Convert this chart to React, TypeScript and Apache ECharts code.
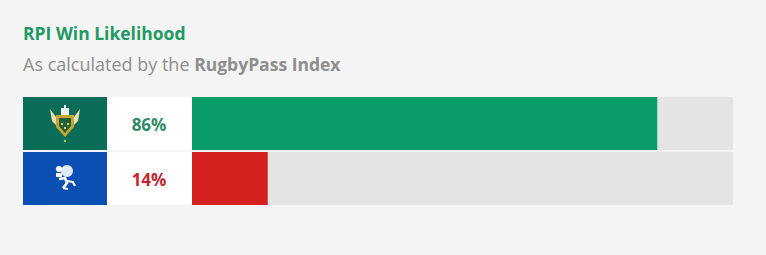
import React, { useEffect, useRef } from "react";
import * as echarts from "echarts";

// Teams and their win likelihood (percent)
const teams = ["Northampton Saints", "Bath"];
const winPct = [86, 14];
const barColors = ["#0a9c68", "#d4201f"];
const labelColors = ["#2f8c68", "#c1282f"];
const crestColors = ["#0b6c57", "#0a4fb2"];

const TITLE = "RPI Win Likelihood";
const SUB_PLAIN = "As calculated by the ";
const SUB_BOLD = "RugbyPass Index";

const FONT = "'Open Sans', Lato, sans-serif";

export default function App() {
  const ref = useRef<HTMLDivElement>(null);

  useEffect(() => {
    if (!ref.current) return;
    document.body.style.margin = "0";
    document.body.style.background = "#f4f4f4";
    const chart = echarts.init(ref.current, null, { renderer: "svg" });

    const rowTop = 97;
    const rowH = 53;
    const rowStep = 55;

    const crests: any[] = [];
    teams.forEach((_, i) => {
      const y = rowTop + i * rowStep;
      crests.push({
        type: "rect",
        shape: { x: 23, y, width: 84, height: rowH },
        style: { fill: crestColors[i] },
      });
      crests.push({
        type: "rect",
        shape: { x: 107, y, width: 85, height: rowH },
        style: { fill: "#ffffff" },
      });
    });

    // Saints crest: gold shield, wings and a white castle top
    const cx0 = 65;
    const cy0 = 123;
    const saints = {
      type: "group",
      children: [
        { type: "polygon", shape: { points: [[cx0 - 9, cy0 - 8], [cx0 + 9, cy0 - 8], [cx0 + 9, cy0 + 4], [cx0, cy0 + 14], [cx0 - 9, cy0 + 4]] }, style: { fill: "#c9a72c" } },
        { type: "polygon", shape: { points: [[cx0 - 6, cy0 - 5], [cx0 + 6, cy0 - 5], [cx0 + 6, cy0 + 3], [cx0, cy0 + 10], [cx0 - 6, cy0 + 3]] }, style: { fill: "#1d5e3c" } },
        { type: "polygon", shape: { points: [[cx0 - 9, cy0 - 6], [cx0 - 15, cy0 - 14], [cx0 - 13, cy0 - 2], [cx0 - 9, cy0 + 2]] }, style: { fill: "#e9dfb0" } },
        { type: "polygon", shape: { points: [[cx0 + 9, cy0 - 6], [cx0 + 15, cy0 - 14], [cx0 + 13, cy0 - 2], [cx0 + 9, cy0 + 2]] }, style: { fill: "#e9dfb0" } },
        { type: "rect", shape: { x: cx0 - 4, y: cy0 - 15, width: 8, height: 7 }, style: { fill: "#f2f2f2" } },
        { type: "rect", shape: { x: cx0 - 1, y: cy0 - 18, width: 2, height: 4 }, style: { fill: "#f2f2f2" } },
        { type: "circle", shape: { cx: cx0 - 3, cy: cy0 + 1, r: 1.2 }, style: { fill: "#e8d36a" } },
        { type: "circle", shape: { cx: cx0 + 3, cy: cy0 + 1, r: 1.2 }, style: { fill: "#e8d36a" } },
        { type: "circle", shape: { cx: cx0, cy: cy0 + 5, r: 1.2 }, style: { fill: "#e8d36a" } },
        { type: "circle", shape: { cx: cx0, cy: cy0 + 18, r: 1.2 }, style: { fill: "#d8c24a" } },
      ],
    };

    // Bath crest: white rampant figure on blue
    const bx = 65;
    const by = 177;
    const bath = {
      type: "group",
      children: [
        { type: "circle", shape: { cx: bx + 2, cy: by - 6, r: 6 }, style: { fill: "#dfe9f7" } },
        { type: "circle", shape: { cx: bx - 6, cy: by - 8, r: 3.2 }, style: { fill: "#ffffff" } },
        { type: "rect", shape: { x: bx - 9, y: by - 4, width: 6, height: 4 }, style: { fill: "#ffffff" } },
        { type: "polyline", shape: { points: [[bx - 6, by + 2], [bx, by + 1], [bx + 2, by + 6], [bx - 2, by + 11]] }, style: { stroke: "#ffffff", lineWidth: 2.6, fill: "none" } },
        { type: "polyline", shape: { points: [[bx + 2, by + 4], [bx + 8, by + 5], [bx + 10, by + 9]] }, style: { stroke: "#ffffff", lineWidth: 2.2, fill: "none" } },
        { type: "polyline", shape: { points: [[bx - 2, by + 11], [bx + 3, by + 12]] }, style: { stroke: "#ffffff", lineWidth: 2, fill: "none" } },
      ],
    };

    const pctLabels = teams.map((_, i) => ({
      type: "text",
      x: 149,
      y: rowTop + i * rowStep + rowH / 2 + 1,
      style: {
        text: winPct[i] + "%",
        fill: labelColors[i],
        font: `bold 17px ${FONT}`,
        align: "center",
        verticalAlign: "middle",
      },
    }));

    chart.setOption({
      animation: false,
      backgroundColor: "#f4f4f4",
      title: [
        {
          text: TITLE,
          left: 23,
          top: 24,
          padding: 0,
          textStyle: { color: "#1f9a63", fontSize: 17.5, fontWeight: "bold", fontFamily: FONT },
        },
        {
          text: `{p|${SUB_PLAIN}}{b|${SUB_BOLD}}`,
          left: 23,
          top: 55,
          padding: 0,
          textStyle: {
            rich: {
              p: { color: "#8e8e8e", fontSize: 18, fontWeight: "normal", fontFamily: FONT },
              b: { color: "#8e8e8e", fontSize: 17.5, fontWeight: "bold", fontFamily: FONT },
            },
          },
        },
      ],
      grid: { left: 192, right: 33, top: 96, height: 110 },
      xAxis: { type: "value", min: 0, max: 100, show: false },
      yAxis: {
        type: "category",
        data: teams,
        inverse: true,
        show: false,
      },
      series: [
        {
          type: "bar",
          data: winPct.map((v, i) => ({ value: v, itemStyle: { color: barColors[i] } })),
          barWidth: 53,
          showBackground: true,
          backgroundStyle: { color: "#e4e4e4" },
        },
      ],
      graphic: [...crests, saints, bath, ...pctLabels],
    });

    return () => chart.dispose();
  }, []);

  return <div ref={ref} style={{ width: 766, height: 255 }} />;
}
